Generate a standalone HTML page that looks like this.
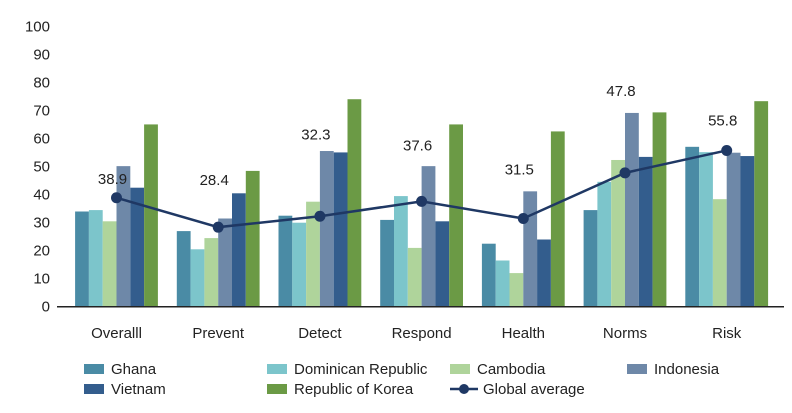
<!DOCTYPE html>
<html><head><meta charset="utf-8"><style>
body{margin:0;background:#fff;font-family:"Liberation Sans",sans-serif;}
svg text{font-family:"Liberation Sans",sans-serif;fill:#222;}
</style></head><body>
<svg id="chart" width="792" height="408" xmlns="http://www.w3.org/2000/svg"></svg>
<script>
const categories=["Overalll","Prevent","Detect","Respond","Health","Norms","Risk"];
const seriesNames=["Ghana","Dominican Republic","Cambodia","Indonesia","Vietnam","Republic of Korea"];
const ghana=[34,27,32.5,31,22.5,34.5,57.1];
const dominican=[34.5,20.5,30,39.5,16.5,44.6,55.2];
const cambodia=[30.5,24.5,37.5,21,12,52.4,38.4];
const indonesia=[50.2,31.5,55.6,50.2,41.2,69.2,55];
const vietnam=[42.5,40.5,55.1,30.5,24,53.5,53.8];
const korea=[65.1,48.5,74.1,65.1,62.6,69.4,73.4];
const globalAvg=[38.9,28.4,32.3,37.6,31.5,47.8,55.8];
const yTicks=[0,10,20,30,40,50,60,70,80,90,100];
const labelLift=[20,48,83,57,50,83,31];
const colors=["#4a8ba5","#7cc5cb","#afd49b","#6e88a8","#335d8d","#6b9a45"];
const lineColor="#1f3864";
const NS="http://www.w3.org/2000/svg";
const svg=document.getElementById('chart');
function mk(t,a,p){const e=document.createElementNS(NS,t);for(const k in a)e.setAttribute(k,a[k]);(p||svg).appendChild(e);return e;}
const y=v=>306.7-v*2.8;
const cx=i=>116.5+i*101.7;
const bw=13.8;
const series=[ghana,dominican,cambodia,indonesia,vietnam,korea];
yTicks.forEach(t=>{const e=mk('text',{x:50,y:y(t)+5,'text-anchor':'end','font-size':15});e.textContent=t;

});
series.forEach((s,si)=>{s.forEach((v,i)=>{const r=mk('rect',{x:cx(i)-3*bw+si*bw,y:y(v),width:bw,height:y(0)-y(v),fill:colors[si]});

});});
const ax=mk('line',{x1:57,y1:y(0),x2:784,y2:y(0),stroke:'#222','stroke-width':1.5});


categories.forEach((c,i)=>{const e=mk('text',{x:cx(i),y:338,'text-anchor':'middle','font-size':15});e.textContent=c;

});
const pl=mk('polyline',{points:globalAvg.map((v,i)=>cx(i)+','+y(v)).join(' '),fill:'none',stroke:lineColor,'stroke-width':2.5});


globalAvg.forEach((v,i)=>{const c=mk('circle',{cx:cx(i),cy:y(v),r:5.5,fill:lineColor});


const t=mk('text',{x:cx(i)-4,y:y(v)-labelLift[i]+6,'text-anchor':'middle','font-size':15});t.textContent=v.toFixed(1);

});
const legX=[84,267,450,627];
seriesNames.forEach((n,i)=>{const lx=legX[i%4],ly=i<4?369:389;
const g=mk('g',{});


mk('rect',{x:lx,y:ly-5,width:20,height:10,fill:colors[i]},g);
const t=mk('text',{x:lx+27,y:ly+5,'font-size':15},g);t.textContent=n;});
const g=mk('g',{});


mk('line',{x1:450,y1:389,x2:478,y2:389,stroke:lineColor,'stroke-width':2.5},g);
mk('circle',{cx:464,cy:389,r:5,fill:lineColor},g);
const t=mk('text',{x:483,y:394,'font-size':15},g);t.textContent="Global average";
</script>
</body></html>
